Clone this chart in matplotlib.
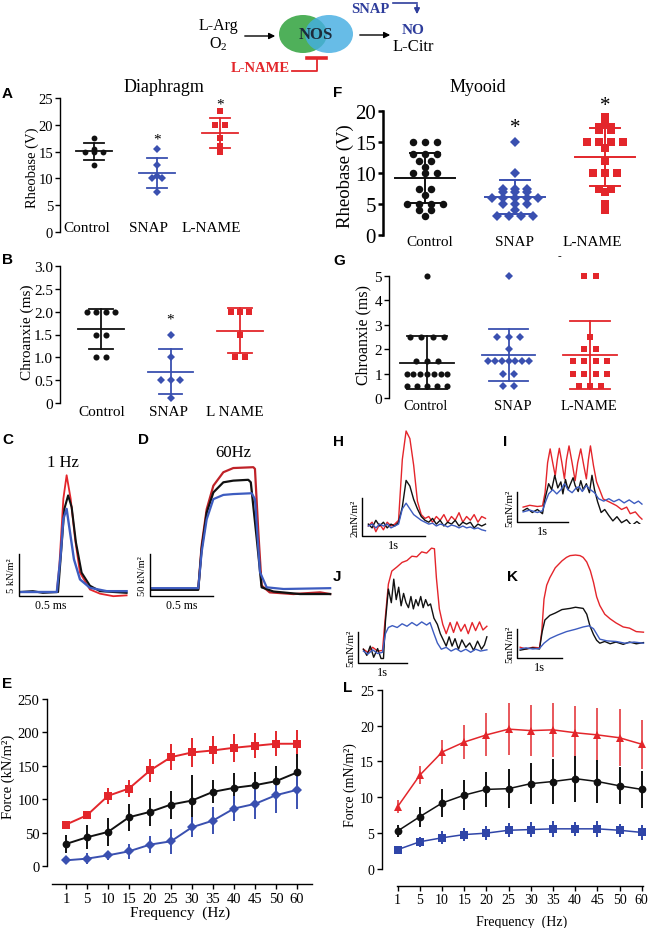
import numpy as np
import matplotlib
matplotlib.use('Agg')
import matplotlib.pyplot as plt
from matplotlib.patches import Ellipse

plt.rcParams['font.family'] = ['Liberation Serif', 'DejaVu Serif']
plt.rcParams['mathtext.fontset'] = 'custom'
plt.rcParams['mathtext.rm'] = 'Liberation Serif'
plt.rcParams['axes.linewidth'] = 1.0

W, H = 651, 929
BLACK = '#111111'
BLUE = '#3a50b0'
RED = '#e3262b'
SANS = 'Liberation Sans'

# ---- dot plots (rheobase / chronaxie) ----
GROUPS = ['Control', 'SNAP', 'L-NAME']
A_CTRL = [17.5, 15.5, 15, 15, 15, 12.5]
A_SNAP = [15.5, 12.5, 10.5, 10, 10, 7.5]
A_LNAME = [22.5, 20, 20, 17.5, 16, 15]
B_CTRL = [2, 2, 2, 2, 1.5, 1.5, 1, 1]
B_SNAP = [1.5, 1, 0.5, 0.5, 0.5, 0.1]
B_LNAME = [2, 2, 2, 1.5, 1, 1]
F_CTRL = [15, 15, 15, 13, 13, 13, 12, 12, 11, 10, 10, 10, 7.5, 7.5, 6.5, 5, 5, 5, 5, 4, 4, 3]
F_SNAP = [15, 10, 7.5, 7.5, 7.5, 7, 7, 7, 6, 6, 6, 6, 6, 5, 5, 5, 4, 3, 3, 3, 3]
F_LNAME = [19, 18, 17.5, 17.5, 17, 17, 15, 15, 15, 15, 14, 12, 10, 10, 10, 7.5, 7.5, 7, 5, 4]
G_CTRL = [5, 2.5, 2.5, 2.5, 2.5, 1.5, 1.5, 1.5, 1, 1, 1, 1, 1, 1, 1, 0.5, 0.5, 0.5, 0.5, 0.5]
G_SNAP = [5, 2.5, 2.5, 2.5, 2, 1.5, 1.5, 1.5, 1.5, 1.5, 1.5, 1.5, 1, 1, 0.5, 0.5]
G_LNAME = [5, 5, 2.5, 2, 2, 1.5, 1.5, 1.5, 1.5, 1, 1, 1, 1, 0.5, 0.5, 0.5]

# ---- force-frequency ----
FREQ = [1, 5, 10, 15, 20, 25, 30, 35, 40, 45, 50, 60]
E_LNAME = [62, 76, 105, 116, 143, 163, 170, 173, 177, 180, 183, 183]
E_LNAME_SD = [3, 6, 12, 13, 17, 20, 22, 21, 21, 19, 19, 20]
E_CTRL = [33, 43, 51, 73, 81, 92, 98, 111, 117, 121, 127, 140]
E_CTRL_SD = [14, 18, 21, 20, 21, 21, 38, 17, 22, 20, 22, 27]
E_SNAP = [8.5, 11, 16, 22, 32, 37, 58, 68, 86, 93, 106, 114]
E_SNAP_SD = [5, 8, 7, 11, 13, 19, 15, 20, 19, 23, 26, 28]
L_LNAME = [8.7, 13.1, 16.3, 17.7, 18.7, 19.5, 19.3, 19.4, 19.0, 18.7, 18.3, 17.4]
L_LNAME_SD = [0.9, 1.2, 1.7, 2.4, 3.0, 3.6, 3.6, 3.8, 3.7, 3.8, 4.0, 3.4]
L_CTRL = [5.3, 7.3, 9.2, 10.3, 11.1, 11.2, 11.9, 12.2, 12.6, 12.2, 11.6, 11.1]
L_CTRL_SD = [0.9, 1.4, 1.9, 2.1, 2.4, 2.7, 2.9, 3.1, 3.2, 3.0, 2.6, 2.6]
L_SNAP = [2.7, 3.8, 4.35, 4.8, 5.0, 5.4, 5.5, 5.6, 5.6, 5.6, 5.4, 5.1]
L_SNAP_SD = [0.3, 0.7, 0.9, 0.9, 1.0, 1.0, 1.0, 1.1, 1.0, 1.1, 0.9, 1.0]

# ---- traces (time, force) ----
C_RED_T = [0.013, 0.30, 0.32, 0.352, 0.378, 0.41, 0.445, 0.484, 0.563, 0.643, 0.749, 0.854]
C_RED_F = [0, 0, 3.1, 11.1, 13.9, 11.1, 6.3, 2.3, 0.3, -0.2, -0.5, -0.4]
C_BLK_T = [0.013, 0.11, 0.19, 0.31, 0.33, 0.36, 0.39, 0.418, 0.452, 0.497, 0.563, 0.643, 0.854]
C_BLK_F = [0, 0.1, -0.1, 0, 3.9, 9.9, 11.5, 10.1, 5.9, 2.3, 0.75, 0.1, -0.1]
C_BLU_T = [0.013, 0.30, 0.33, 0.352, 0.378, 0.405, 0.436, 0.484, 0.563, 0.696, 0.854]
C_BLU_F = [0, 0, 4.3, 8.7, 9.9, 7.1, 3.9, 1.5, 0.5, 0.1, 0.1]

D_RED_T = [0.013, 0.383, 0.41, 0.45, 0.503, 0.582, 0.661, 0.82, 0.833, 0.86, 0.886, 0.95, 1.138, 1.35, 1.43]
D_RED_F = [0, 0, 52, 95, 123, 139, 144, 145, 143, 67, 4, -4, -6, -4, -6]
D_BLK_T = [0.013, 0.383, 0.41, 0.45, 0.503, 0.582, 0.661, 0.78, 0.80, 0.847, 0.886, 0.98, 1.19, 1.43]
D_BLK_F = [-1, -1, 48, 91, 115, 127, 129, 130, 127, 60, 2, -3, -6, -6]
D_BLU_T = [0.013, 0.383, 0.41, 0.45, 0.503, 0.582, 0.661, 0.807, 0.833, 0.873, 0.926, 1.06, 1.43]
D_BLU_F = [1, 1, 44, 83, 107, 112, 113, 114, 107, 20, 2, 0, 1]

H_T = 0.10 + 0.06 * np.arange(32)
H_RED = [0.0, 0.2, -0.3, 0.1, -0.2, 0.2, 0.0, 0.1, 0.3, 3.5, 5.0, 4.6, 3.2, 1.3, 0.6, 0.4,
         0.5, 0.2, 0.5, 0.3, 0.6, 0.2, 0.5, 0.3, 0.7, 0.2, 0.5, 0.3, 0.6, 0.2, 0.5, 0.4]
H_BLK = [0.1, -0.1, 0.3, 0.0, 0.2, -0.1, 0.1, 0.0, 0.2, 1.0, 2.4, 2.1, 1.4, 0.9, 0.5, 0.3,
         0.2, 0.4, 0.1, 0.3, 0.0, 0.2, 0.1, 0.3, 0.0, 0.2, 0.1, 0.2, -0.1, 0.1, 0.0, 0.1]
H_BLU = [0.0, 0.1, -0.1, 0.1, 0.0, 0.1, -0.1, 0.0, 0.1, 0.9, 1.2, 0.9, 0.6, 0.45, 0.3, 0.2,
         0.1, 0.15, 0.0, 0.1, 0.05, -0.05, 0.05, 0.0, -0.1, 0.0, -0.1, -0.05, -0.15, -0.1, -0.2, -0.25]

I_RED_T = [0.12, 0.25, 0.40, 0.50, 0.55, 0.60, 0.65, 0.70, 0.75, 0.79, 0.83, 0.88, 0.93, 0.97, 1.02, 1.08, 1.14, 1.19,
           1.25, 1.31, 1.36, 1.40, 1.44, 1.50, 1.56, 1.62, 1.69, 1.80, 1.95, 2.05, 2.15, 2.22, 2.32, 2.40, 2.45]
I_RED_F = [0.6, 0.9, 0.7, 0.8, 3.0, 8.0, 10.3, 8.0, 5.8, 8.5, 10.4, 8.0, 5.3, 8.5, 10.8, 8.0, 5.0, 8.0,
           10.3, 7.5, 5.3, 8.5, 10.8, 7.5, 4.8, 3.5, 1.95, 1.5, 0.85, 0.2, 0.6, -0.5, -0.2, -1.0, -1.4]
I_BLK_T = [0.12, 0.20, 0.30, 0.40, 0.50, 0.55, 0.62, 0.68, 0.74, 0.80, 0.86, 0.90, 0.95, 1.00, 1.05, 1.10, 1.14, 1.20,
           1.25, 1.30, 1.36, 1.42, 1.47, 1.52, 1.58, 1.65, 1.72, 1.80, 1.88, 1.96, 2.05, 2.15, 2.25, 2.35, 2.45]
I_BLK_F = [0.0, 0.4, -0.3, 0.2, -0.5, 2.0, 4.5, 3.5, 5.9, 3.8, 4.8, 2.8, 5.2, 3.5, 4.5, 5.5, 4.2, 3.2,
           5.0, 3.5, 4.5, 3.0, 5.9, 3.5, 1.5, -0.3, 0.2, -0.8, -1.7, -1.0, -2.0, -1.5, -2.5, -1.8, -2.5]
I_BLU_T = [0.12, 0.25, 0.40, 0.50, 0.56, 0.62, 0.70, 0.78, 0.86, 0.93, 1.00, 1.08, 1.16, 1.22,
           1.28, 1.36, 1.44, 1.52, 1.60, 1.70, 1.80, 1.90, 2.00, 2.10, 2.20, 2.30, 2.38, 2.45]
I_BLU_F = [-0.2, 0.1, -0.3, 0.0, 1.5, 2.8, 3.5, 2.8, 3.5, 4.5, 3.5, 3.0, 3.8, 4.0,
           3.2, 4.2, 3.5, 3.0, 2.0, 1.6, 2.0, 1.5, 1.9, 1.3, 1.8, 1.2, 1.6, 1.1]

J_RED_T = [0.11, 0.20, 0.30, 0.40, 0.50, 0.55, 0.62, 0.69, 0.80, 0.90, 1.00, 1.10, 1.20, 1.30, 1.40, 1.50,
           1.56, 1.60, 1.66, 1.73, 1.80, 1.88, 1.95, 2.02, 2.10, 2.18, 2.25, 2.33, 2.40, 2.48, 2.55, 2.63]
J_RED_F = [0.5, 0.0, 0.8, 0.2, 0.3, 5.0, 11.0, 13.1, 13.8, 14.5, 14.8, 15.5, 15.4, 16.2, 16.0, 16.8,
           16.7, 12.0, 7.0, 4.5, 3.0, 4.8, 3.2, 4.9, 3.4, 4.5, 3.0, 4.8, 3.5, 4.9, 3.6, 4.2]
J_BLK_T = [0.11, 0.18, 0.25, 0.32, 0.40, 0.47, 0.52, 0.56, 0.62, 0.68, 0.73, 0.78, 0.83, 0.88, 0.93, 0.98,
           1.03, 1.08, 1.13, 1.18, 1.23, 1.28, 1.33, 1.38, 1.43, 1.48, 1.55, 1.62, 1.68, 1.74, 1.80, 1.86,
           1.92, 1.98, 2.05, 2.12, 2.20, 2.28, 2.36, 2.44, 2.52, 2.58, 2.63]
J_BLK_F = [0.5, -0.5, 1.0, -0.8, 0.6, -1.0, -1.0, 5.0, 10.2, 8.0, 11.8, 8.5, 10.5, 7.5, 9.5, 8.0,
           7.2, 9.0, 7.0, 8.5, 7.5, 9.0, 7.2, 8.5, 7.5, 7.8, 5.5, 4.5, 3.0, 2.0, 1.0, 2.5,
           1.0, 2.2, 0.5, 2.0, 0.8, 1.5, 0.3, 1.8, 0.5, 1.2, 2.5]
J_BLU_T = [0.11, 0.20, 0.30, 0.40, 0.50, 0.56, 0.62, 0.70, 0.80, 0.90, 1.00, 1.10, 1.20, 1.30,
           1.40, 1.47, 1.55, 1.62, 1.70, 1.80, 1.90, 2.00, 2.10, 2.20, 2.30, 2.40, 2.50, 2.63]
J_BLU_F = [0.2, -0.3, 0.4, -0.2, 0.0, 3.0, 4.0, 4.3, 4.0, 4.6, 4.2, 4.8, 4.3, 4.9,
           4.4, 4.8, 3.0, 1.5, 0.5, 0.8, 0.2, 0.6, 0.1, 0.5, 0.0, 0.5, 0.2, 0.4]

K_RED_T = [0.07, 0.20, 0.35, 0.50, 0.55, 0.60, 0.66, 0.73, 0.85, 1.00, 1.10, 1.18, 1.30, 1.40,
           1.47, 1.55, 1.63, 1.70, 1.77, 1.84, 1.95, 2.07, 2.20, 2.36, 2.50, 2.65, 2.81]
K_RED_F = [0.3, 0.0, 0.3, 0.2, 3.0, 8.6, 11.0, 12.3, 14.0, 15.2, 15.8, 16.1, 16.2, 16.1,
           15.8, 15.0, 13.5, 11.5, 9.0, 7.5, 6.0, 5.2, 4.5, 3.8, 3.6, 3.0, 2.9]
K_BLK_T = [0.07, 0.20, 0.35, 0.50, 0.56, 0.62, 0.73, 0.85, 1.00, 1.18, 1.30, 1.47, 1.55, 1.62,
           1.70, 1.77, 1.84, 1.95, 2.07, 2.20, 2.36, 2.50, 2.65, 2.81]
K_BLK_F = [-0.2, 0.0, 0.2, 0.0, 3.0, 5.0, 5.8, 6.2, 6.8, 7.0, 7.2, 7.0, 6.0, 4.0,
           2.5, 1.5, 1.0, 1.3, 0.9, 1.2, 0.8, 1.2, 0.9, 1.1]
K_BLU_T = [0.07, 0.20, 0.35, 0.50, 0.60, 0.73, 0.90, 1.10, 1.30, 1.47, 1.60, 1.70, 1.84, 2.00, 2.20, 2.40, 2.60, 2.81]
K_BLU_F = [0.0, 0.2, 0.0, 0.1, 1.0, 1.8, 2.4, 3.0, 3.4, 3.8, 4.0, 3.5, 1.7, 1.4, 1.3, 1.0, 1.2, 1.0]


fig = plt.figure(figsize=(W / 100, H / 100), dpi=100)


def add_px(l, t, r, b):
    return fig.add_axes([l / W, 1 - b / H, (r - l) / W, (b - t) / H])


def swarm(vals, step, maxw):
    vals = np.asarray(vals, float)
    off = np.zeros(len(vals))
    for v in np.unique(vals):
        idx = np.where(vals == v)[0]
        n = len(idx)
        s = step if n < 2 else min(step, maxw / (n - 1))
        off[idx] = (np.arange(n) - (n - 1) / 2) * s
    return off


def dot_ax(l, t, r, b, c0, c2, ymax, ticks, tlabels, fs, spine_w=1.0):
    ax = add_px(l, t, r, b)
    s = (c2 - c0) / 2
    ax.set_xlim((l - c0) / s, (r - c0) / s)
    ax.set_ylim(0, ymax)
    for sp in ['top', 'right', 'bottom']:
        ax.spines[sp].set_visible(False)
    ax.spines['left'].set_linewidth(spine_w)
    ax.set_xticks([])
    ax.set_yticks(ticks)
    ax.set_yticklabels(tlabels, fontsize=fs)
    ax.tick_params(axis='y', length=3.5, width=spine_w, pad=1.5)
    ax.patch.set_visible(False)
    return ax


def dotplot(ax, groups, markers, ms, step, maxw, mw, cw, lw=1.3):
    for i, (vals, c, m, size) in enumerate(zip(groups, [BLACK, BLUE, RED], markers, ms)):
        x = i + swarm(vals, step, maxw)
        mu = np.mean(vals)
        sd = np.std(vals, ddof=1)
        ax.plot([i - mw, i + mw], [mu, mu], color=c, lw=lw, zorder=2)
        ax.plot([i, i], [mu - sd, mu + sd], color=c, lw=lw, zorder=2)
        ax.plot([i - cw, i + cw], [mu - sd] * 2, color=c, lw=lw, zorder=2)
        ax.plot([i - cw, i + cw], [mu + sd] * 2, color=c, lw=lw, zorder=2)
        ax.plot(x, vals, ls='none', marker=m, color=c, ms=size, mew=0, clip_on=False, zorder=3)


# A
axA = dot_ax(60, 99, 250, 233, 94, 220, 25, [0, 5, 10, 15, 20, 25],
             ['0', '5', '10', '15', '20', '25'], 10.5)
dotplot(axA, [A_CTRL, A_SNAP, A_LNAME], ['o', 'D', 's'], [4.2, 3.6, 5.0], 0.15, 0.5, 0.29, 0.16)
axA.text(1, 17.3, '*', ha='center', va='center', fontsize=11)
axA.text(2, 23.9, '*', ha='center', va='center', fontsize=11)

# B
axB = dot_ax(60, 267, 267, 404, 101, 240, 3, [0, 0.5, 1, 1.5, 2, 2.5, 3],
             ['0', '0.5', '1.0', '1.5', '2.0', '2.5', '3.0'], 11)
dotplot(axB, [B_CTRL, B_SNAP, B_LNAME], ['o', 'D', 's'], [4.4, 3.6, 5.0], 0.135, 0.5, 0.33, 0.17)
axB.text(1, 1.83, '*', ha='center', va='center', fontsize=11)

# F
axF = dot_ax(383, 112, 645, 236, 425, 605, 20, [0, 5, 10, 15, 20],
             ['0', '5', '10', '15', '20'], 15, spine_w=1.8)
dotplot(axF, [F_CTRL, F_SNAP, F_LNAME], ['o', 'D', 's'], [5.4, 4.6, 5.2], 0.13, 0.55, 0.33, 0.17, lw=1.4)
axF.text(1, 17.4, '*', ha='center', va='center', fontsize=15)
axF.text(2, 20.9, '*', ha='center', va='center', fontsize=15)

# G
axG = dot_ax(389, 277, 645, 399, 427, 590, 5, [0, 1, 2, 3, 4, 5],
             ['0', '1', '2', '3', '4', '5'], 11)
dotplot(axG, [G_CTRL, G_SNAP, G_LNAME], ['o', 'D', 's'], [4.4, 3.8, 4.8], 0.14, 0.5, 0.33, 0.24)


# ---- traces ----
def trace_ax(l, t, r, b, ox, oy, sx, sy):
    ax = add_px(l, t, r, b)
    ax.set_xlim((l - ox) / sx, (r - ox) / sx)
    ax.set_ylim((oy - b) / sy, (oy - t) / sy)
    ax.axis('off')
    return ax


def scalebar(ax, y0, dx, dy, xlab, ylab, fs=8.5, xfs=8.5):
    ax.plot([0, 0, dx], [y0 + dy, y0, y0], color='k', lw=1.0, clip_on=False)
    ax.annotate(ylab, (0, y0 + dy / 2), xytext=(-2, 0), textcoords='offset points',
                rotation=90, ha='right', va='center', fontsize=fs)
    ax.annotate(xlab, (dx / 2, y0), xytext=(0, -2), textcoords='offset points',
                ha='center', va='top', fontsize=xfs)


TRED, TBLK, TBLU = '#e4252b', '#111111', '#3d5cc0'

axC = trace_ax(19, 460, 130, 600, 19, 593, 126, 8.4)
axC.plot(C_RED_T, C_RED_F, color=TRED, lw=1.3)
axC.plot(C_BLK_T, C_BLK_F, color=TBLK, lw=1.5)
axC.plot(C_BLU_T, C_BLU_F, color=TBLU, lw=1.7)
scalebar(axC, -0.48, 0.5, 5, '0.5 ms', '5 kN/m²', 7.5, 8.5)

axD = trace_ax(150, 455, 335, 600, 150, 590, 126, 0.84)
axD.plot(D_RED_T, D_RED_F, color='#bf2228', lw=1.6)
axD.plot(D_BLK_T, D_BLK_F, color=TBLK, lw=1.6)
axD.plot(D_BLU_T, D_BLU_F, color=TBLU, lw=1.6)
scalebar(axD, -8.3, 0.5, 50, '0.5 ms', '50 kN/m²', 7.5, 8.5)

axH = trace_ax(362, 425, 490, 540, 362, 527, 63, 19)
axH.plot(H_T, H_RED, color=TRED, lw=1.0)
axH.plot(H_T, H_BLK, color=TBLK, lw=1.0)
axH.plot(H_T, H_BLU, color=TBLU, lw=1.0)
scalebar(axH, -0.53, 1, 2, '1s', '2mN/m²', 8, 9)

axI = trace_ax(517, 440, 645, 525, 517, 511.7, 51, 6)
axI.plot(I_RED_T, I_RED_F, color=TRED, lw=1.0)
axI.plot(I_BLK_T, I_BLK_F, color=TBLK, lw=1.0)
axI.plot(I_BLU_T, I_BLU_F, color=TBLU, lw=1.0)
scalebar(axI, -1.9, 1, 5, '1s', '5mN/m²', 8, 9)

axJ = trace_ax(358, 545, 492, 666, 358, 653.3, 49, 6.2)
axJ.plot(J_RED_T, J_RED_F, color=TRED, lw=1.0)
axJ.plot(J_BLK_T, J_BLK_F, color=TBLK, lw=1.0)
axJ.plot(J_BLU_T, J_BLU_F, color=TBLU, lw=1.0)
scalebar(axJ, -1.73, 1, 5, '1s', '5mN/m²', 8, 9)

axK = trace_ax(517, 550, 645, 661, 517, 650, 45, 5.8)
axK.plot(K_RED_T, K_RED_F, color=TRED, lw=1.0)
axK.plot(K_BLK_T, K_BLK_F, color=TBLK, lw=1.0)
axK.plot(K_BLU_T, K_BLU_F, color=TBLU, lw=1.0)
scalebar(axK, -1.55, 1, 5, '1s', '5mN/m²', 8, 9)


# ---- force-frequency panels ----
def freq_ax(l, t, r, b, x0px, dxpx, ymax, yticks, drop_pt, xb, fs):
    ax = add_px(l, t, r, b)
    ax.set_xlim((l - x0px) / dxpx, (r - x0px) / dxpx)
    ax.set_ylim(0, ymax)
    for sp in ['top', 'right']:
        ax.spines[sp].set_visible(False)
    ax.spines['bottom'].set_position(('outward', drop_pt))
    ax.spines['bottom'].set_bounds(*xb)
    ax.set_yticks(yticks)
    ax.set_xticks(range(len(FREQ)))
    ax.set_xticklabels([str(f) for f in FREQ])
    ax.tick_params(labelsize=fs, length=3.5, width=1.0, pad=2)
    ax.patch.set_visible(False)
    return ax


def series(ax, y, sd, c, m, ms, ecol=None, lw=1.4):
    x = np.arange(len(FREQ))
    ax.errorbar(x, y, yerr=sd, color=c, ecolor=ecol or c, lw=lw, elinewidth=1.4, capsize=3.2,
                capthick=1.4, marker=m, ms=ms, mew=0, clip_on=False, zorder=3)


axE = freq_ax(47, 700, 312, 867, 66, 21, 250, [0, 50, 100, 150, 200, 250], 13, (-0.67, 11.71), 10.5)
series(axE, E_LNAME, E_LNAME_SD, RED, 's', 6.2)
series(axE, E_CTRL, E_CTRL_SD, BLACK, 'o', 5.6)
series(axE, E_SNAP, E_SNAP_SD, BLUE, 'D', 4.6)

axL = freq_ax(381.7, 690.7, 643, 870, 397.7, 22.18, 25, [0, 5, 10, 15, 20, 25], 12, (-0.05, 11.05), 10)
series(axL, L_LNAME, L_LNAME_SD, RED, '^', 6.0, ecol='#e8575b', lw=1.1)
series(axL, L_CTRL, L_CTRL_SD, BLACK, 'o', 5.6, lw=1.1)
series(axL, L_SNAP, L_SNAP_SD, '#2f45a8', 's', 5.4, lw=1.1)


# ---- overlay: schematic and free text ----
ov = fig.add_axes([0, 0, 1, 1])
ov.set_xlim(0, W)
ov.set_ylim(H, 0)
ov.axis('off')

ov.add_patch(Ellipse((303, 35), 48, 38, color='#4fb05a', lw=0))
ov.add_patch(Ellipse((329, 35), 48, 38, color='#45aee2', alpha=0.82, lw=0))
ov.text(316, 35, 'NOS', ha='center', va='center', fontsize=12, fontweight='bold', color='#1d2b3a')
ov.text(218, 26, 'L-Arg', ha='center', va='center', fontsize=11.5)
ov.text(218, 44, r'O$_2$', ha='center', va='center', fontsize=11.5)
ov.annotate('', xy=(278, 37), xytext=(242, 37),
            arrowprops=dict(arrowstyle='-|>', color='k', lw=1.0, mutation_scale=9))
ov.annotate('', xy=(393, 36), xytext=(357, 36),
            arrowprops=dict(arrowstyle='-|>', color='k', lw=1.0, mutation_scale=9))
ov.text(413, 30, 'NO', ha='center', va='center', fontsize=11, fontweight='bold', color='#2e3d9c')
ov.text(413, 47, 'L-Citr', ha='center', va='center', fontsize=12)
ov.text(370, 9, 'SNAP', ha='center', va='center', fontsize=10.5, fontweight='bold', color='#2e3d9c')
ov.plot([393, 417], [3.5, 3.5], color='#2e3d9c', lw=1.2)
ov.annotate('', xy=(417, 18), xytext=(417, 2.9),
            arrowprops=dict(arrowstyle='-|>', color='#2e3d9c', lw=1.2, mutation_scale=8))
ov.text(260, 68, 'L-NAME', ha='center', va='center', fontsize=10.5, fontweight='bold', color=RED)
ov.plot([292, 317, 317], [72, 72, 59], color=RED, lw=1.3)
ov.plot([307, 326], [58.5, 58.5], color=RED, lw=2.6)

ov.text(164, 87, 'Diaphragm', ha='center', va='center', fontsize=13)
ov.text(478, 87, 'Myooid', ha='center', va='center', fontsize=13)

for lab, x, y in [('A', 2, 94), ('B', 2, 260), ('C', 2, 440), ('D', 138, 440), ('E', 2, 684),
                  ('F', 333, 93), ('G', 333, 261), ('H', 333, 442), ('I', 503, 442),
                  ('J', 333, 577), ('K', 507, 577), ('L', 343, 688)]:
    ov.text(x, y, lab, ha='left', va='center', fontsize=11, fontweight='bold', family=SANS)

# category labels
for labels, xs, y, fs in [(GROUPS, [87, 149, 211], 228, 11),
                          (['Control', 'SNAP', 'L NAME'], [102, 169, 235], 412, 11),
                          (GROUPS, [430, 515, 592], 242, 11),
                          (GROUPS, [426, 513, 589], 407, 10.5)]:
    for lab, x in zip(labels, xs):
        ov.text(x, y, lab, ha='center', va='center', fontsize=fs)
ov.text(559, 257, '-', ha='center', va='center', fontsize=8)

ov.text(32, 168, 'Rheobase (V)', rotation=90, ha='center', va='center', fontsize=10.5)
ov.text(27, 332, 'Chroanxie (ms)', rotation=90, ha='center', va='center', fontsize=11)
ov.text(345, 176, 'Rheobase (V)', rotation=90, ha='center', va='center', fontsize=13.5)
ov.text(363, 335, 'Chroanxie (ms)', rotation=90, ha='center', va='center', fontsize=11.5)
ov.text(63, 463, '1 Hz', ha='center', va='center', fontsize=12)
ov.text(233, 453, '60Hz', ha='center', va='center', fontsize=12)

ov.text(8, 777, 'Force (kN/m²)', rotation=90, ha='center', va='center', fontsize=10.5)
ov.text(180, 913, 'Frequency  (Hz)', ha='center', va='center', fontsize=11)
ov.text(350, 785, 'Force (mN/m²)', rotation=90, ha='center', va='center', fontsize=10)
ov.text(522, 922, 'Frequency  (Hz)', ha='center', va='center', fontsize=10)

fig.savefig('out.png', dpi=100)
